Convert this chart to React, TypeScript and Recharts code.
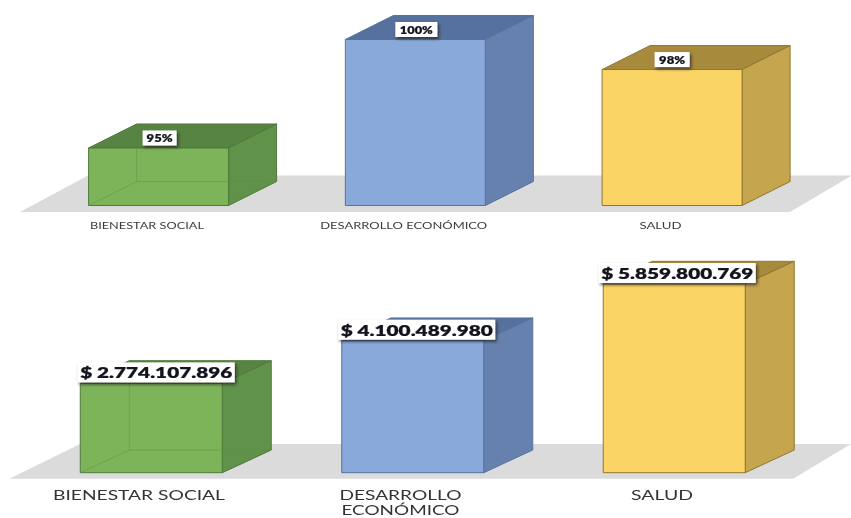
import React from 'react';
import { BarChart, Bar, XAxis, YAxis, LabelList } from 'recharts';

const categories = ['BIENESTAR SOCIAL', 'DESARROLLO ECONÓMICO', 'SALUD'];
// Percentages: displayed rounded; bar heights
const percentValues = [94.55, 100, 98.49];
const percentLabels = ['95%', '100%', '98%'];
const moneyValues = [2774107896, 4100489980, 5859800769];
const moneyLabels = ['$ 2.774.107.896', '$ 4.100.489.980', '$ 5.859.800.769'];

const frontColors = ['#7db45a', '#8aa9db', '#fbd466'];
const sideColors = ['#60924a', '#6781ae', '#c5a54e'];
const topColors = ['#588443', '#56719d', '#a78a3c'];
const edgeColors = ['#4f7a3a', '#56729e', '#8f7732'];
const backEdges = ['#5c8c45', null, null];

const percentData = categories.map((name, i) => ({ name, value: percentValues[i], label: percentLabels[i] }));
const moneyData = categories.map((name, i) => ({ name, value: moneyValues[i], label: moneyLabels[i] }));

const FONT = 'Lato, "Open Sans", sans-serif';

const makeBox = (dx: number, dy: number) => (props: any) => {
  const { x, y, width: w, height: h, index: i } = props;
  const r = x + w;
  const b = y + h;
  const face = (pts: number[][], fill: string) => (
    <polygon points={pts.map((p) => p.join(',')).join(' ')} fill={fill} stroke={edgeColors[i]} strokeWidth={1} strokeLinejoin="round" />
  );
  return (
    <g>
      {face([[x, y], [x + dx, y + dy], [r + dx, y + dy], [r, y]], topColors[i])}
      {face([[r, y], [r + dx, y + dy], [r + dx, b + dy], [r, b]], sideColors[i])}
      {face([[x, y], [r, y], [r, b], [x, b]], frontColors[i])}
      {backEdges[i] && (
        <g stroke={backEdges[i] as string} strokeWidth={1} fill="none" opacity={0.45}>
          <line x1={x + dx} y1={y} x2={x + dx} y2={b + dy} />
          <line x1={x} y1={b} x2={x + dx} y2={b + dy} />
          <line x1={x + dx} y1={b + dy} x2={r + dx} y2={b + dy} />
        </g>
      )}
    </g>
  );
};

const makeLabel = (opts: { boxW: number[]; textW: number[]; boxH: number; gap: number; shift: number[]; size: number }) => (props: any) => {
  const { x, y, width, value, index } = props;
  const cx = x + width / 2 + opts.shift[index];
  const cy = y - opts.gap;
  const w = opts.boxW[index];
  return (
    <g>
      <rect x={cx - w / 2} y={cy - opts.boxH / 2} width={w} height={opts.boxH} fill="#ffffff" filter="url(#lblShadow)" />
      <text x={cx} y={cy} textAnchor="middle" dominantBaseline="central" fontFamily={FONT} fontWeight={800} fontSize={opts.size}
        textLength={opts.textW[index]} lengthAdjust="spacingAndGlyphs" fill="#14141f" stroke="#14141f" strokeWidth={0.2}>
        {value}
      </text>
    </g>
  );
};

const makeTick = (o: { size: number; dx: number; dy: number; lh: number; wrap: boolean; fill: string; widths: Record<string, number> }) => (props: any) => {
  const { x, y, payload } = props;
  const v: string = payload.value;
  const lines = o.wrap && v.length > 16 ? v.split(' ') : [v];
  return (
    <g>
      {lines.map((l, i) => (
        <text key={l} x={x + o.dx} y={y + o.dy + i * o.lh} textAnchor="middle" fontFamily={FONT} fontSize={o.size} fill={o.fill}
          textLength={o.widths[l]} lengthAdjust="spacingAndGlyphs">
          {l}
        </text>
      ))}
    </g>
  );
};

const Floor = ({ points }: { points: number[][] }) => (
  <g>
    <defs>
      <filter id="lblShadow" x="-20%" y="-30%" width="140%" height="170%">
        <feDropShadow dx="1.5" dy="2" stdDeviation="1.6" floodColor="#1a1a1a" floodOpacity="0.75" />
      </filter>
    </defs>
    <polygon points={points.map((p) => p.join(',')).join(' ')} fill="#dbdbdb" />
  </g>
);

const topFloor = [[20, 212], [88, 175.5], [851, 175.5], [851, 176], [790, 212]];
const bottomFloor = [[9.5, 228.7], [80, 194], [851, 194], [793, 228.7]];
const topTickWidths = { 'BIENESTAR SOCIAL': 114, 'DESARROLLO ECONÓMICO': 167, SALUD: 42 };
const bottomTickWidths = { 'BIENESTAR SOCIAL': 172, DESARROLLO: 122, 'ECONÓMICO': 118, SALUD: 62 };

export default function App() {
  return (
    <div style={{ position: 'absolute', left: 0, top: 0, width: 851, height: 518, background: '#fff', overflow: 'hidden', filter: 'blur(0.45px)' }}>
      <div style={{ position: 'absolute', left: 0, top: 0 }}>
        <BarChart width={851} height={250} data={percentData} margin={{ top: 39.5, right: 50.15, bottom: 0, left: 30.6 }} barSize={140}>
          <Floor points={topFloor} />
          <XAxis dataKey="name" height={44.5} axisLine={false} tickLine={false} interval={0}
            tick={makeTick({ size: 10, dx: -12, dy: 15.5, lh: 12, wrap: false, fill: '#3c3c3c', widths: topTickWidths })} />
          <YAxis hide domain={[91.66, 100]} allowDataOverflow={false} />
          <Bar dataKey="value" isAnimationActive={false} shape={makeBox(48, -24)}>
            <LabelList dataKey="label" content={makeLabel({ boxW: [34, 42, 35], textW: [26, 33, 26], boxH: 15, gap: 10, shift: [1, 1, 0], size: 10.5 })} />
          </Bar>
        </BarChart>
      </div>
      <div style={{ position: 'absolute', left: 0, top: 250 }}>
        <BarChart width={851} height={268} data={moneyData} margin={{ top: 29.5, right: 46.25, bottom: 0, left: 20.25 }} barSize={142}>
          <Floor points={bottomFloor} />
          <XAxis dataKey="name" height={45.3} axisLine={false} tickLine={false} interval={0}
            tick={makeTick({ size: 12.8, dx: -12, dy: 19, lh: 15.4, wrap: true, fill: '#333333', widths: bottomTickWidths })} />
          <YAxis hide domain={[0, 6000000000]} />
          <Bar dataKey="value" isAnimationActive={false} shape={makeBox(49, -22.7)}>
            <LabelList dataKey="label" content={makeLabel({ boxW: [157, 157, 157], textW: [152, 152, 152], boxH: 20, gap: 11, shift: [5, 4, 3], size: 15 })} />
          </Bar>
        </BarChart>
      </div>
    </div>
  );
}
